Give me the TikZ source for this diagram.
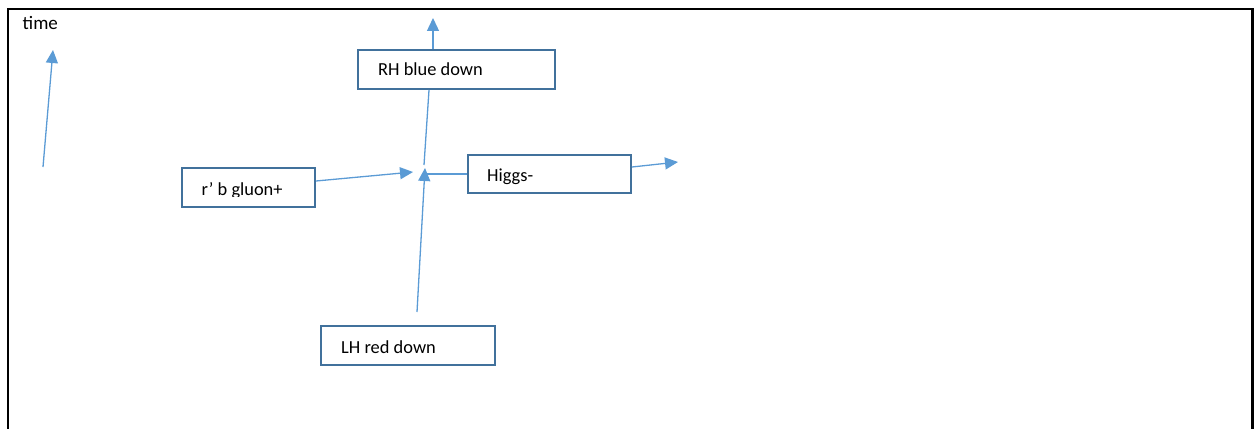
\documentclass[tikz,border=0pt]{standalone}
\usepackage{fontspec}
\setmainfont{Carlito}
\usetikzlibrary{arrows.meta}
\definecolor{boxc}{HTML}{41719C}
\definecolor{arrc}{HTML}{5B9BD5}
\begin{document}
\begin{tikzpicture}[x=1pt,y=-1pt,
  box/.style={draw=boxc,line width=2pt,inner sep=0pt,anchor=north west,fill=white},
  lab/.style={font=\fontsize{18.4}{22}\selectfont,anchor=base west,inner sep=0pt},
  arr/.style={draw=arrc,line width=1.3pt,-{Triangle[length=13pt,width=12pt]}},
  ln/.style={draw=arrc,line width=1.3pt}]
\useasboundingbox (0,0) rectangle (1257,428);
% frame
\draw[line width=2.5pt] (8,432) -- (8,9) -- (1252.5,9) -- (1252.5,432);
% time
\node[lab,font=\fontsize{19}{22}\selectfont] (time) at (22.5,29.5) {time};
\coordinate (t0) at (43,167);
\coordinate (t1) at (53,50);
\draw[arr] (t0) -- (t1);
% boxes
\node[box,minimum width=133pt,minimum height=39pt] (gluon) at (181,167) {};
\node[box,minimum width=197pt,minimum height=39pt] (rh) at (357,49) {};
\node[box,minimum width=163pt,minimum height=38pt] (higgs) at (467,154) {};
\node[box,minimum width=174pt,minimum height=39pt] (lh) at (320,325) {};
% labels
\begin{scope}
\clip (182,150) rectangle (313,196.5);
\node[lab] (gluontext) at (201.5,195) {r’ b gluon+};
\end{scope}
\node[lab] (rhtext) at (378,75) {RH blue down};
\node[lab] (higgstext) at (487,181.5) {Higgs-};
\node[lab] (lhtext) at (341,353) {LH red down};
% vertex points
\coordinate (gtip) at (413,172);
\coordinate (lh0) at (417,312);
\coordinate (lhtip) at (425,168);
\coordinate (hin) at (424,174);
\coordinate (v0) at (424,165);
\coordinate (rhtip) at (433,18);
\coordinate (htip) at (678,162);
% connectors
\draw[arr] ([yshift=6.5pt]gluon.east) -- (gtip);
\draw[arr] (lh0) -- (lhtip);
\draw[ln] (higgs.west) -- (hin);
\draw[ln] (v0) -- ([xshift=-27.5pt]rh.south);
\draw[arr] ([xshift=-23.5pt]rh.north) -- (rhtip);
\draw[arr] ([yshift=7pt]higgs.east) -- (htip);
\end{tikzpicture}
\end{document}
